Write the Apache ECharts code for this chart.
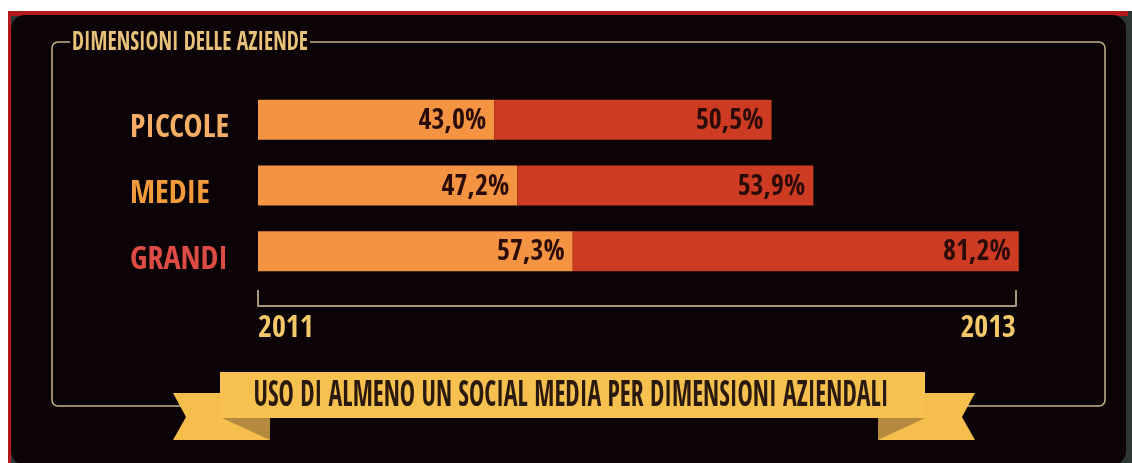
<!DOCTYPE html>
<html lang="it">
<head>
<meta charset="utf-8">
<title>Uso di almeno un social media per dimensioni aziendali</title>
<script src="https://cdn.jsdelivr.net/npm/echarts@6/dist/echarts.min.js"></script>
<style>
  html, body { margin: 0; padding: 0; background: #ffffff; }
  #chart { width: 1132px; height: 463px; }
</style>
</head>
<body>
<div id="chart"></div>
<script>
// Company size classes (top to bottom)
const categories = ['PICCOLE', 'MEDIE', 'GRANDI'];
// Share of companies using at least one social media, %
const values2011 = [43.0, 47.2, 57.3];
const values2013 = [50.5, 53.9, 81.2];
// Labels at the two ends of the time bracket
const tickLabels = ['2011', '2013'];
const seriesNames = ['2011', '2013'];

const panelTitle = 'DIMENSIONI DELLE AZIENDE';
const bannerText = 'USO DI ALMENO UN SOCIAL MEDIA PER DIMENSIONI AZIENDALI';

const NARROW = "'Open Sans Condensed', 'Roboto Condensed', 'DejaVu Sans Condensed', sans-serif";
const PANEL = '#0b0305';
const labelColors = ['#f6ad66', '#f39a3b', '#dc4c44'];

// Horizontal squeeze so a text run spans a given width
const measureCtx = document.createElement('canvas').getContext('2d');
function squeeze(text, font, targetWidth) {
  measureCtx.font = font;
  return targetWidth / measureCtx.measureText(text).width;
}

const fmtPct = v => v.toFixed(1).replace('.', ',') + '%';

const titleFont = 'bold 27px ' + NARROW;
const bannerFont = 'bold 36px ' + NARROW;

// per-category rich styles for the size labels, nudged down to sit on the bar base
const catRich = {};
labelColors.forEach((c, i) => {
  catRich['c' + i] = {
    color: c,
    fontFamily: NARROW,
    fontWeight: 'bold',
    fontSize: 32,
    padding: [18, 0, 0, 0]
  };
});

const valueLabel = {
  show: true,
  position: 'insideRight',
  distance: 8,
  offset: [0, 2],
  color: '#2a0b08',
  fontFamily: NARROW,
  fontWeight: 'bold',
  fontSize: 28,
  formatter: p => fmtPct(p.value)
};

const chart = echarts.init(document.getElementById('chart'), null, { renderer: 'canvas' });

chart.setOption({
  backgroundColor: 'transparent',
  animation: false,
  grid: {
    left: 258, right: 116, top: 87, bottom: 179,
    outerBoundsMode: 'none'
  },
  xAxis: {
    type: 'value',
    min: 0, max: 138, interval: 138,
    position: 'bottom',
    offset: 22,
    axisLine: { show: true, lineStyle: { color: '#a8977a', width: 2 } },
    axisTick: { show: true, inside: true, length: 16, lineStyle: { color: '#a8977a', width: 2 } },
    splitLine: { show: false },
    axisLabel: {
      show: true,
      margin: 8,
      color: '#f5c86a',
      fontFamily: NARROW,
      fontWeight: 'bold',
      fontSize: 30,
      alignMinLabel: 'left',
      alignMaxLabel: 'right',
      formatter: (v) => (v === 0 ? tickLabels[0] : tickLabels[1])
    }
  },
  yAxis: {
    type: 'category',
    data: categories,
    inverse: true,
    axisLine: { show: false },
    axisTick: { show: false },
    splitLine: { show: false },
    axisLabel: {
      align: 'left',
      margin: 128,
      formatter: (value, index) => '{c' + index + '|' + value + '}',
      rich: catRich
    }
  },
  series: [
    {
      name: seriesNames[0],
      type: 'bar',
      stack: 'uso',
      data: values2011,
      barWidth: 40,
      clip: false,
      itemStyle: { color: '#f49341' },
      label: valueLabel
    },
    {
      name: seriesNames[1],
      type: 'bar',
      stack: 'uso',
      data: values2013,
      barWidth: 40,
      clip: false,
      itemStyle: { color: '#cd3b23' },
      label: valueLabel
    }
  ],
  graphic: {
    elements: [
      // outer card: teal backdrop, red top/left edge, dark rounded panel
      { type: 'rect', z: -20, silent: true, shape: { x: 8, y: 11, width: 1124, height: 452 }, style: { fill: '#2b3635' } },
      { type: 'rect', z: -19, silent: true, shape: { x: 8, y: 11, width: 1120, height: 5 }, style: { fill: '#b3191d' } },
      { type: 'rect', z: -19, silent: true, shape: { x: 8, y: 11, width: 3, height: 452 }, style: { fill: '#b3191d' } },
      { type: 'rect', z: -18, silent: true, shape: { x: 11, y: 15, width: 1115, height: 450, r: 14 }, style: { fill: PANEL } },
      // inner frame
      { type: 'rect', z: -17, silent: true, shape: { x: 52, y: 42, width: 1053, height: 364, r: 6 }, style: { fill: 'none', stroke: '#c8b48c', lineWidth: 1.5 } },
      // gap in the frame for the panel title
      { type: 'rect', z: -16, silent: true, shape: { x: 70, y: 36, width: 240, height: 12 }, style: { fill: PANEL } },
      {
        type: 'text', z: -15, silent: true,
        x: 72, y: 43, originX: 0, originY: 0,
        scaleX: squeeze(panelTitle, titleFont, 236),
        style: {
          text: panelTitle, font: titleFont, fill: '#e8c27a',
          textAlign: 'left', textVerticalAlign: 'middle'
        }
      },
      // ribbon: tails, folds, band
      { type: 'polygon', z: 10, silent: true, shape: { points: [[173, 393], [270, 393], [270, 440], [173, 440], [186, 417]] }, style: { fill: '#f5be4d' } },
      { type: 'polygon', z: 10, silent: true, shape: { points: [[878, 393], [975, 393], [962, 417], [975, 440], [878, 440]] }, style: { fill: '#f5be4d' } },
      { type: 'polygon', z: 11, silent: true, shape: { points: [[222, 418], [270, 418], [270, 440]] }, style: { fill: '#b48a3e' } },
      { type: 'polygon', z: 11, silent: true, shape: { points: [[925, 418], [878, 418], [878, 440]] }, style: { fill: '#b48a3e' } },
      { type: 'rect', z: 12, silent: true, shape: { x: 220, y: 372, width: 705, height: 46 }, style: { fill: '#f7c150' } },
      {
        type: 'text', z: 13, silent: true,
        x: 571, y: 397, originX: 0, originY: 0,
        scaleX: squeeze(bannerText, bannerFont, 635),
        style: {
          text: bannerText, font: bannerFont, fill: '#2a1a0e',
          textAlign: 'center', textVerticalAlign: 'middle'
        }
      }
    ]
  }
});
</script>
</body>
</html>
